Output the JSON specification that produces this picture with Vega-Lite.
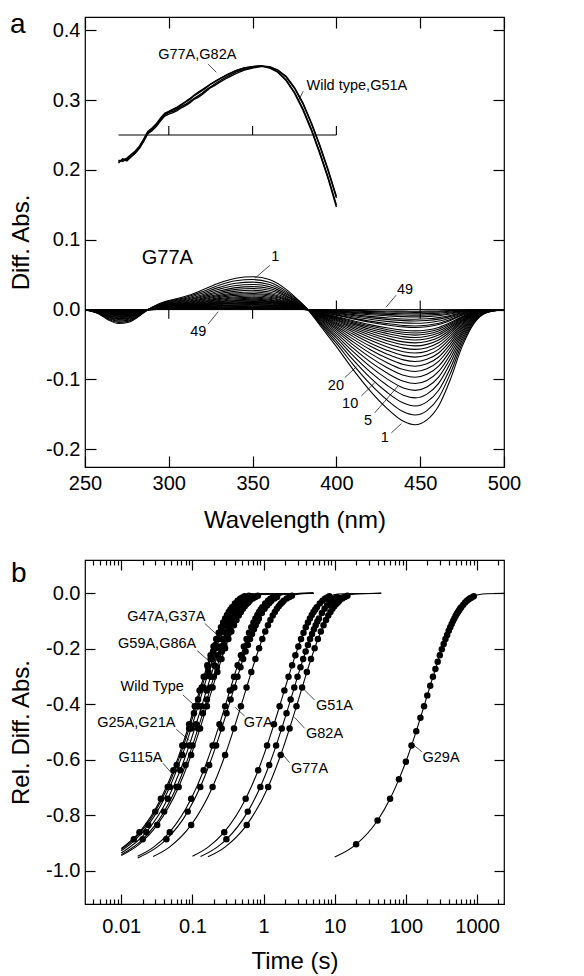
{
  "$schema": "https://vega.github.io/schema/vega-lite/v6.json",
  "background": "white",
  "padding": {"left": 8, "top": 10, "right": 5, "bottom": 2},
  "spacing": 25,
  "config": {
    "font": "Liberation Sans",
    "view": {"stroke": "black", "strokeWidth": 1.2},
    "axis": {"grid": false, "domain": false, "tickColor": "black", "tickWidth": 1.2, "labelColor": "black", "titleColor": "black", "labelFontSize": 20, "titleFontSize": 24, "titleFontWeight": "normal", "labelFlush": false, "labelOverlap": false},
    "locale": {"number": {"decimal": ".", "thousands": ",", "grouping": [3], "currency": ["$", ""], "minus": "-"}}
  },
  "vconcat": [
    {
      "width": 419,
      "height": 450,
      "resolve": {"axis": {"x": "independent", "y": "independent"}},
      "layer": [
        {
          "data": {"values": [{"w": 250, "w2": 500, "v": 0}]},
          "mark": {"type": "rule", "color": "black", "strokeWidth": 1},
          "encoding": {
            "x": {"field": "w", "type": "quantitative", "scale": {"domain": [250, 500], "nice": false, "zero": false},
                  "axis": {"orient": "bottom", "values": [250, 300, 350, 400, 450, 500], "tickSize": -11, "labelPadding": 17, "title": "Wavelength (nm)", "titlePadding": 15}},
            "x2": {"field": "w2"},
            "y": {"field": "v", "type": "quantitative", "scale": {"domain": [-0.2254, 0.419], "nice": false, "zero": false},
                  "axis": {"orient": "left", "values": [-0.2, -0.1, 0, 0.1, 0.2, 0.3, 0.4], "format": ".1f", "tickSize": -11, "labelPadding": 16, "title": "Diff. Abs.", "titlePadding": 12}}
          }
        },
        {
          "data": {"values": [{"w": 270, "w2": 400, "v": 0.25}]},
          "mark": {"type": "rule", "color": "black", "strokeWidth": 1.1},
          "encoding": {
            "x": {"field": "w", "type": "quantitative", "axis": {"orient": "top", "values": [250, 300, 350, 400, 450, 500], "tickSize": -11, "labels": false, "title": null}},
            "x2": {"field": "w2"},
            "y": {"field": "v", "type": "quantitative", "axis": {"orient": "right", "values": [-0.2, -0.1, 0, 0.1, 0.2, 0.3, 0.4], "tickSize": -11, "labels": false, "title": null}}
          }
        },
        {
          "data": {"values": [
            {"w": 300, "v": 0.25, "v2": 0.263}, {"w": 350, "v": 0.25, "v2": 0.263}, {"w": 400, "v": 0.25, "v2": 0.263},
            {"w": 300, "v": -0.013, "v2": 0.013}, {"w": 350, "v": -0.013, "v2": 0.013}, {"w": 400, "v": -0.013, "v2": 0.013}, {"w": 450, "v": -0.013, "v2": 0.013}
          ]},
          "mark": {"type": "rule", "color": "black", "strokeWidth": 1.1},
          "encoding": {
            "x": {"field": "w", "type": "quantitative", "axis": null},
            "y": {"field": "v", "type": "quantitative", "axis": null},
            "y2": {"field": "v2"}
          }
        },
        {
          "data": {"values": [
            {"w":250,"a1":0,"a2":0,"a3":0,"a4":0,"a5":0,"a6":0,"a7":0,"a8":0,"a9":0,"a10":0,"a11":0,"a12":0,"a13":0,"a14":0,"a16":0,"a18":0,"a20":0,"a23":0,"a27":0,"a32":0,"a38":0,"a49":0,"a15":0,"a17":0,"a19":0,"a22":0,"a25":0,"a29":0,"a35":0,"a43":0},
            {"w":258,"a1":-0.006,"a2":-0.0055,"a3":-0.005,"a4":-0.0046,"a5":-0.0042,"a6":-0.0039,"a7":-0.0035,"a8":-0.0032,"a9":-0.003,"a10":-0.0027,"a11":-0.0025,"a12":-0.0023,"a13":-0.0021,"a14":-0.0019,"a16":-0.0016,"a18":-0.0013,"a20":-0.0011,"a23":-0.0009,"a27":-0.0006,"a32":-0.0004,"a38":-0.0002,"a49":-0.0001,"a15":-0.0017,"a17":-0.0015,"a19":-0.0012,"a22":-0.0009,"a25":-0.0007,"a29":-0.0005,"a35":-0.0003,"a43":-0.0001},
            {"w":264,"a1":-0.015,"a2":-0.0137,"a3":-0.0126,"a4":-0.0115,"a5":-0.0105,"a6":-0.0096,"a7":-0.0088,"a8":-0.0081,"a9":-0.0074,"a10":-0.0068,"a11":-0.0062,"a12":-0.0057,"a13":-0.0052,"a14":-0.0047,"a16":-0.004,"a18":-0.0033,"a20":-0.0028,"a23":-0.0021,"a27":-0.0015,"a32":-0.0009,"a38":-0.0006,"a49":-0.0002,"a15":-0.0043,"a17":-0.0036,"a19":-0.0031,"a22":-0.0023,"a25":-0.0018,"a29":-0.0013,"a35":-0.0007,"a43":-0.0004},
            {"w":270,"a1":-0.02,"a2":-0.0183,"a3":-0.0167,"a4":-0.0153,"a5":-0.014,"a6":-0.0128,"a7":-0.0117,"a8":-0.0107,"a9":-0.0098,"a10":-0.009,"a11":-0.0082,"a12":-0.0075,"a13":-0.0069,"a14":-0.0063,"a16":-0.0053,"a18":-0.0044,"a20":-0.0037,"a23":-0.0028,"a27":-0.002,"a32":-0.0013,"a38":-0.0007,"a49":-0.0003,"a15":-0.0058,"a17":-0.0048,"a19":-0.0041,"a22":-0.0031,"a25":-0.0024,"a29":-0.0017,"a35":-0.001,"a43":-0.0005},
            {"w":276,"a1":-0.018,"a2":-0.0165,"a3":-0.0151,"a4":-0.0138,"a5":-0.0126,"a6":-0.0116,"a7":-0.0106,"a8":-0.0097,"a9":-0.0089,"a10":-0.0081,"a11":-0.0074,"a12":-0.0068,"a13":-0.0062,"a14":-0.0057,"a16":-0.0048,"a18":-0.004,"a20":-0.0033,"a23":-0.0026,"a27":-0.0018,"a32":-0.0011,"a38":-0.0007,"a49":-0.0003,"a15":-0.0052,"a17":-0.0044,"a19":-0.0037,"a22":-0.0028,"a25":-0.0021,"a29":-0.0015,"a35":-0.0009,"a43":-0.0004},
            {"w":282,"a1":-0.01,"a2":-0.0092,"a3":-0.0084,"a4":-0.0077,"a5":-0.007,"a6":-0.0064,"a7":-0.0059,"a8":-0.0054,"a9":-0.0049,"a10":-0.0045,"a11":-0.0041,"a12":-0.0038,"a13":-0.0035,"a14":-0.0032,"a16":-0.0026,"a18":-0.0022,"a20":-0.0019,"a23":-0.0014,"a27":-0.001,"a32":-0.0006,"a38":-0.0004,"a49":-0.0001,"a15":-0.0029,"a17":-0.0024,"a19":-0.002,"a22":-0.0016,"a25":-0.0012,"a29":-0.0008,"a35":-0.0005,"a43":-0.0002},
            {"w":287,"a1":-0.001,"a2":-0.0009,"a3":-0.0008,"a4":-0.0008,"a5":-0.0007,"a6":-0.0006,"a7":-0.0006,"a8":-0.0005,"a9":-0.0005,"a10":-0.0005,"a11":-0.0004,"a12":-0.0004,"a13":-0.0003,"a14":-0.0003,"a16":-0.0003,"a18":-0.0002,"a20":-0.0002,"a23":-0.0001,"a27":-0.0001,"a32":-0.0001,"a38":0,"a49":0,"a15":-0.0003,"a17":-0.0002,"a19":-0.0002,"a22":-0.0002,"a25":-0.0001,"a29":-0.0001,"a35":0,"a43":0},
            {"w":293,"a1":0.007,"a2":0.0064,"a3":0.0059,"a4":0.0054,"a5":0.0049,"a6":0.0045,"a7":0.0041,"a8":0.0038,"a9":0.0034,"a10":0.0032,"a11":0.0029,"a12":0.0026,"a13":0.0024,"a14":0.0022,"a16":0.0018,"a18":0.0015,"a20":0.0013,"a23":0.001,"a27":0.0007,"a32":0.0004,"a38":0.0003,"a49":0.0001,"a15":0.002,"a17":0.0017,"a19":0.0014,"a22":0.0011,"a25":0.0008,"a29":0.0006,"a35":0.0003,"a43":0.0002},
            {"w":300,"a1":0.013,"a2":0.0119,"a3":0.0109,"a4":0.01,"a5":0.0091,"a6":0.0083,"a7":0.0076,"a8":0.007,"a9":0.0064,"a10":0.0059,"a11":0.0054,"a12":0.0049,"a13":0.0045,"a14":0.0041,"a16":0.0034,"a18":0.0029,"a20":0.0024,"a23":0.0018,"a27":0.0013,"a32":0.0008,"a38":0.0005,"a49":0.0002,"a15":0.0038,"a17":0.0032,"a19":0.0026,"a22":0.002,"a25":0.0016,"a29":0.0011,"a35":0.0006,"a43":0.0003},
            {"w":310,"a1":0.019,"a2":0.0174,"a3":0.0159,"a4":0.0146,"a5":0.0133,"a6":0.0122,"a7":0.0112,"a8":0.0102,"a9":0.0093,"a10":0.0086,"a11":0.0078,"a12":0.0072,"a13":0.0066,"a14":0.006,"a16":0.005,"a18":0.0042,"a20":0.0035,"a23":0.0027,"a27":0.0019,"a32":0.0012,"a38":0.0007,"a49":0.0003,"a15":0.0055,"a17":0.0046,"a19":0.0039,"a22":0.003,"a25":0.0023,"a29":0.0016,"a35":0.0009,"a43":0.0005},
            {"w":320,"a1":0.028,"a2":0.0256,"a3":0.0234,"a4":0.0214,"a5":0.0196,"a6":0.018,"a7":0.0164,"a8":0.015,"a9":0.0138,"a10":0.0126,"a11":0.0115,"a12":0.0106,"a13":0.0097,"a14":0.0088,"a16":0.0074,"a18":0.0062,"a20":0.0052,"a23":0.004,"a27":0.0028,"a32":0.0018,"a38":0.001,"a49":0.0004,"a15":0.0081,"a17":0.0068,"a19":0.0057,"a22":0.0043,"a25":0.0033,"a29":0.0023,"a35":0.0014,"a43":0.0007},
            {"w":330,"a1":0.038,"a2":0.0348,"a3":0.0318,"a4":0.0291,"a5":0.0266,"a6":0.0244,"a7":0.0223,"a8":0.0204,"a9":0.0187,"a10":0.0171,"a11":0.0157,"a12":0.0143,"a13":0.0131,"a14":0.012,"a16":0.01,"a18":0.0084,"a20":0.007,"a23":0.0054,"a27":0.0038,"a32":0.0024,"a38":0.0014,"a49":0.0005,"a15":0.011,"a17":0.0092,"a19":0.0077,"a22":0.0059,"a25":0.0045,"a29":0.0032,"a35":0.0019,"a43":0.0009},
            {"w":340,"a1":0.045,"a2":0.0412,"a3":0.0377,"a4":0.0345,"a5":0.0315,"a6":0.0289,"a7":0.0264,"a8":0.0242,"a9":0.0221,"a10":0.0203,"a11":0.0185,"a12":0.017,"a13":0.0155,"a14":0.0142,"a16":0.0119,"a18":0.0099,"a20":0.0083,"a23":0.0064,"a27":0.0045,"a32":0.0028,"a38":0.0017,"a49":0.0006,"a15":0.013,"a17":0.0109,"a19":0.0091,"a22":0.007,"a25":0.0054,"a29":0.0038,"a35":0.0022,"a43":0.0011},
            {"w":350,"a1":0.047,"a2":0.043,"a3":0.0393,"a4":0.036,"a5":0.0329,"a6":0.0302,"a7":0.0276,"a8":0.0252,"a9":0.0231,"a10":0.0212,"a11":0.0194,"a12":0.0177,"a13":0.0162,"a14":0.0148,"a16":0.0124,"a18":0.0104,"a20":0.0087,"a23":0.0067,"a27":0.0047,"a32":0.003,"a38":0.0017,"a49":0.0007,"a15":0.0136,"a17":0.0114,"a19":0.0095,"a22":0.0073,"a25":0.0056,"a29":0.0039,"a35":0.0023,"a43":0.0011},
            {"w":360,"a1":0.043,"a2":0.0393,"a3":0.036,"a4":0.0329,"a5":0.0301,"a6":0.0276,"a7":0.0252,"a8":0.0231,"a9":0.0212,"a10":0.0194,"a11":0.0177,"a12":0.0162,"a13":0.0148,"a14":0.0135,"a16":0.0114,"a18":0.0095,"a20":0.008,"a23":0.0061,"a27":0.0043,"a32":0.0027,"a38":0.0016,"a49":0.0006,"a15":0.0124,"a17":0.0104,"a19":0.0087,"a22":0.0067,"a25":0.0051,"a29":0.0036,"a35":0.0021,"a43":0.001},
            {"w":370,"a1":0.029,"a2":0.0265,"a3":0.0243,"a4":0.0222,"a5":0.0203,"a6":0.0186,"a7":0.017,"a8":0.0156,"a9":0.0143,"a10":0.0131,"a11":0.0119,"a12":0.0109,"a13":0.01,"a14":0.0091,"a16":0.0077,"a18":0.0064,"a20":0.0054,"a23":0.0041,"a27":0.0029,"a32":0.0018,"a38":0.0011,"a49":0.0004,"a15":0.0084,"a17":0.007,"a19":0.0059,"a22":0.0045,"a25":0.0035,"a29":0.0024,"a35":0.0014,"a43":0.0007},
            {"w":378,"a1":0.012,"a2":0.011,"a3":0.01,"a4":0.0092,"a5":0.0084,"a6":0.0077,"a7":0.007,"a8":0.0064,"a9":0.0059,"a10":0.0054,"a11":0.0049,"a12":0.0045,"a13":0.0041,"a14":0.0038,"a16":0.0032,"a18":0.0027,"a20":0.0022,"a23":0.0017,"a27":0.0012,"a32":0.0008,"a38":0.0004,"a49":0.0002,"a15":0.0035,"a17":0.0029,"a19":0.0024,"a22":0.0019,"a25":0.0014,"a29":0.001,"a35":0.0006,"a43":0.0003},
            {"w":383,"a1":0,"a2":0,"a3":0,"a4":0,"a5":0,"a6":0,"a7":0,"a8":0,"a9":0,"a10":0,"a11":0,"a12":0,"a13":0,"a14":0,"a16":0,"a18":0,"a20":0,"a23":0,"a27":0,"a32":0,"a38":0,"a49":0,"a15":0,"a17":0,"a19":0,"a22":0,"a25":0,"a29":0,"a35":0,"a43":0},
            {"w":390,"a1":-0.022,"a2":-0.0201,"a3":-0.0184,"a4":-0.0169,"a5":-0.0154,"a6":-0.0141,"a7":-0.0129,"a8":-0.0118,"a9":-0.0108,"a10":-0.0099,"a11":-0.0091,"a12":-0.0083,"a13":-0.0076,"a14":-0.0069,"a16":-0.0058,"a18":-0.0049,"a20":-0.0041,"a23":-0.0031,"a27":-0.0022,"a32":-0.0014,"a38":-0.0008,"a49":-0.0003,"a15":-0.0064,"a17":-0.0053,"a19":-0.0045,"a22":-0.0034,"a25":-0.0026,"a29":-0.0018,"a35":-0.0011,"a43":-0.0005},
            {"w":400,"a1":-0.053,"a2":-0.0485,"a3":-0.0444,"a4":-0.0406,"a5":-0.0372,"a6":-0.034,"a7":-0.0311,"a8":-0.0285,"a9":-0.0261,"a10":-0.0239,"a11":-0.0218,"a12":-0.02,"a13":-0.0183,"a14":-0.0167,"a16":-0.014,"a18":-0.0117,"a20":-0.0098,"a23":-0.0075,"a27":-0.0052,"a32":-0.0033,"a38":-0.002,"a49":-0.0007,"a15":-0.0153,"a17":-0.0128,"a19":-0.0108,"a22":-0.0082,"a25":-0.0063,"a29":-0.0044,"a35":-0.0026,"a43":-0.0013},
            {"w":410,"a1":-0.086,"a2":-0.0787,"a3":-0.072,"a4":-0.0659,"a5":-0.0603,"a6":-0.0552,"a7":-0.0505,"a8":-0.0462,"a9":-0.0423,"a10":-0.0387,"a11":-0.0354,"a12":-0.0324,"a13":-0.0297,"a14":-0.0271,"a16":-0.0227,"a18":-0.019,"a20":-0.0159,"a23":-0.0122,"a27":-0.0085,"a32":-0.0054,"a38":-0.0032,"a49":-0.0012,"a15":-0.0249,"a17":-0.0208,"a19":-0.0175,"a22":-0.0133,"a25":-0.0102,"a29":-0.0072,"a35":-0.0042,"a43":-0.0021},
            {"w":420,"a1":-0.116,"a2":-0.1061,"a3":-0.0971,"a4":-0.0889,"a5":-0.0813,"a6":-0.0745,"a7":-0.0681,"a8":-0.0623,"a9":-0.0571,"a10":-0.0522,"a11":-0.0478,"a12":-0.0437,"a13":-0.04,"a14":-0.0365,"a16":-0.0306,"a18":-0.0256,"a20":-0.0215,"a23":-0.0165,"a27":-0.0115,"a32":-0.0073,"a38":-0.0043,"a49":-0.0016,"a15":-0.0335,"a17":-0.0281,"a19":-0.0236,"a22":-0.018,"a25":-0.0138,"a29":-0.0097,"a35":-0.0057,"a43":-0.0028},
            {"w":430,"a1":-0.141,"a2":-0.129,"a3":-0.118,"a4":-0.108,"a5":-0.0988,"a6":-0.0905,"a7":-0.0828,"a8":-0.0757,"a9":-0.0694,"a10":-0.0635,"a11":-0.0581,"a12":-0.0532,"a13":-0.0486,"a14":-0.0444,"a16":-0.0372,"a18":-0.0312,"a20":-0.0261,"a23":-0.02,"a27":-0.014,"a32":-0.0089,"a38":-0.0052,"a49":-0.002,"a15":-0.0408,"a17":-0.0341,"a19":-0.0286,"a22":-0.0219,"a25":-0.0168,"a29":-0.0118,"a35":-0.0069,"a43":-0.0034},
            {"w":440,"a1":-0.16,"a2":-0.1464,"a3":-0.1339,"a4":-0.1226,"a5":-0.1122,"a6":-0.1027,"a7":-0.0939,"a8":-0.0859,"a9":-0.0787,"a10":-0.072,"a11":-0.0659,"a12":-0.0603,"a13":-0.0552,"a14":-0.0504,"a16":-0.0422,"a18":-0.0354,"a20":-0.0296,"a23":-0.0227,"a27":-0.0158,"a32":-0.0101,"a38":-0.0059,"a49":-0.0022,"a15":-0.0462,"a17":-0.0387,"a19":-0.0325,"a22":-0.0248,"a25":-0.019,"a29":-0.0134,"a35":-0.0078,"a43":-0.0038},
            {"w":447,"a1":-0.165,"a2":-0.151,"a3":-0.1381,"a4":-0.1264,"a5":-0.1157,"a6":-0.1059,"a7":-0.0969,"a8":-0.0886,"a9":-0.0812,"a10":-0.0743,"a11":-0.068,"a12":-0.0622,"a13":-0.0569,"a14":-0.052,"a16":-0.0436,"a18":-0.0365,"a20":-0.0305,"a23":-0.0234,"a27":-0.0163,"a32":-0.0104,"a38":-0.0061,"a49":-0.0023,"a15":-0.0477,"a17":-0.0399,"a19":-0.0335,"a22":-0.0256,"a25":-0.0196,"a29":-0.0138,"a35":-0.0081,"a43":-0.004},
            {"w":454,"a1":-0.158,"a2":-0.1446,"a3":-0.1322,"a4":-0.121,"a5":-0.1108,"a6":-0.1014,"a7":-0.0927,"a8":-0.0848,"a9":-0.0777,"a10":-0.0711,"a11":-0.0651,"a12":-0.0596,"a13":-0.0545,"a14":-0.0498,"a16":-0.0417,"a18":-0.0349,"a20":-0.0292,"a23":-0.0224,"a27":-0.0156,"a32":-0.01,"a38":-0.0058,"a49":-0.0022,"a15":-0.0457,"a17":-0.0382,"a19":-0.0321,"a22":-0.0245,"a25":-0.0188,"a29":-0.0132,"a35":-0.0077,"a43":-0.0038},
            {"w":461,"a1":-0.138,"a2":-0.1263,"a3":-0.1155,"a4":-0.1057,"a5":-0.0967,"a6":-0.0886,"a7":-0.081,"a8":-0.0741,"a9":-0.0679,"a10":-0.0621,"a11":-0.0569,"a12":-0.052,"a13":-0.0476,"a14":-0.0435,"a16":-0.0364,"a18":-0.0305,"a20":-0.0255,"a23":-0.0196,"a27":-0.0137,"a32":-0.0087,"a38":-0.0051,"a49":-0.0019,"a15":-0.0399,"a17":-0.0334,"a19":-0.028,"a22":-0.0214,"a25":-0.0164,"a29":-0.0115,"a35":-0.0068,"a43":-0.0033},
            {"w":468,"a1":-0.1,"a2":-0.0915,"a3":-0.0837,"a4":-0.0766,"a5":-0.0701,"a6":-0.0642,"a7":-0.0587,"a8":-0.0537,"a9":-0.0492,"a10":-0.045,"a11":-0.0412,"a12":-0.0377,"a13":-0.0345,"a14":-0.0315,"a16":-0.0264,"a18":-0.0221,"a20":-0.0185,"a23":-0.0142,"a27":-0.0099,"a32":-0.0063,"a38":-0.0037,"a49":-0.0014,"a15":-0.0289,"a17":-0.0242,"a19":-0.0203,"a22":-0.0155,"a25":-0.0119,"a29":-0.0084,"a35":-0.0049,"a43":-0.0024},
            {"w":475,"a1":-0.053,"a2":-0.0485,"a3":-0.0444,"a4":-0.0406,"a5":-0.0372,"a6":-0.034,"a7":-0.0311,"a8":-0.0285,"a9":-0.0261,"a10":-0.0239,"a11":-0.0218,"a12":-0.02,"a13":-0.0183,"a14":-0.0167,"a16":-0.014,"a18":-0.0117,"a20":-0.0098,"a23":-0.0075,"a27":-0.0052,"a32":-0.0033,"a38":-0.002,"a49":-0.0007,"a15":-0.0153,"a17":-0.0128,"a19":-0.0108,"a22":-0.0082,"a25":-0.0063,"a29":-0.0044,"a35":-0.0026,"a43":-0.0013},
            {"w":482,"a1":-0.02,"a2":-0.0183,"a3":-0.0167,"a4":-0.0153,"a5":-0.014,"a6":-0.0128,"a7":-0.0117,"a8":-0.0107,"a9":-0.0098,"a10":-0.009,"a11":-0.0082,"a12":-0.0075,"a13":-0.0069,"a14":-0.0063,"a16":-0.0053,"a18":-0.0044,"a20":-0.0037,"a23":-0.0028,"a27":-0.002,"a32":-0.0013,"a38":-0.0007,"a49":-0.0003,"a15":-0.0058,"a17":-0.0048,"a19":-0.0041,"a22":-0.0031,"a25":-0.0024,"a29":-0.0017,"a35":-0.001,"a43":-0.0005},
            {"w":490,"a1":-0.004,"a2":-0.0037,"a3":-0.0033,"a4":-0.0031,"a5":-0.0028,"a6":-0.0026,"a7":-0.0023,"a8":-0.0021,"a9":-0.002,"a10":-0.0018,"a11":-0.0016,"a12":-0.0015,"a13":-0.0014,"a14":-0.0013,"a16":-0.0011,"a18":-0.0009,"a20":-0.0007,"a23":-0.0006,"a27":-0.0004,"a32":-0.0003,"a38":-0.0001,"a49":-0.0001,"a15":-0.0012,"a17":-0.001,"a19":-0.0008,"a22":-0.0006,"a25":-0.0005,"a29":-0.0003,"a35":-0.0002,"a43":-0.0001},
            {"w":500,"a1":0,"a2":0,"a3":0,"a4":0,"a5":0,"a6":0,"a7":0,"a8":0,"a9":0,"a10":0,"a11":0,"a12":0,"a13":0,"a14":0,"a16":0,"a18":0,"a20":0,"a23":0,"a27":0,"a32":0,"a38":0,"a49":0,"a15":0,"a17":0,"a19":0,"a22":0,"a25":0,"a29":0,"a35":0,"a43":0}
          ]},
          "transform": [{"fold": ["a1","a2","a3","a4","a5","a6","a7","a8","a9","a10","a11","a12","a13","a14","a15","a16","a17","a18","a19","a20","a22","a23","a25","a27","a29","a32","a35","a38","a43","a49"], "as": ["k", "v"]}],
          "mark": {"type": "line", "color": "black", "strokeWidth": 1.1, "interpolate": "monotone"},
          "encoding": {
            "x": {"field": "w", "type": "quantitative", "axis": null},
            "y": {"field": "v", "type": "quantitative", "axis": null},
            "detail": {"field": "k", "type": "nominal"}
          }
        },
        {
          "data": {"values": [
            {"w":270,"wt":0.211,"g51":0.214,"g77":0.213,"g82":0.21},
            {"w":272.5,"wt":0.215,"g51":0.212,"g77":0.214,"g82":0.216},
            {"w":275,"wt":0.213,"g51":0.216,"g77":0.217,"g82":0.214},
            {"w":277.5,"wt":0.219,"g51":0.221,"g77":0.222,"g82":0.219},
            {"w":280,"wt":0.224,"g51":0.226,"g77":0.227,"g82":0.225},
            {"w":282.5,"wt":0.231,"g51":0.233,"g77":0.234,"g82":0.232},
            {"w":285,"wt":0.241,"g51":0.243,"g77":0.244,"g82":0.242},
            {"w":287.5,"wt":0.252,"g51":0.254,"g77":0.255,"g82":0.253},
            {"w":290,"wt":0.256,"g51":0.258,"g77":0.26,"g82":0.258},
            {"w":292.5,"wt":0.262,"g51":0.264,"g77":0.266,"g82":0.265},
            {"w":295,"wt":0.27,"g51":0.272,"g77":0.274,"g82":0.272},
            {"w":297.5,"wt":0.277,"g51":0.279,"g77":0.281,"g82":0.28},
            {"w":300,"wt":0.28,"g51":0.282,"g77":0.284,"g82":0.283},
            {"w":302.5,"wt":0.282,"g51":0.284,"g77":0.287,"g82":0.286},
            {"w":305,"wt":0.285,"g51":0.287,"g77":0.29,"g82":0.289},
            {"w":307.5,"wt":0.289,"g51":0.291,"g77":0.294,"g82":0.293},
            {"w":310,"wt":0.292,"g51":0.294,"g77":0.298,"g82":0.297},
            {"w":312.5,"wt":0.296,"g51":0.298,"g77":0.302,"g82":0.301},
            {"w":315,"wt":0.301,"g51":0.302,"g77":0.307,"g82":0.306},
            {"w":317.5,"wt":0.304,"g51":0.306,"g77":0.311,"g82":0.31},
            {"w":320,"wt":0.308,"g51":0.31,"g77":0.315,"g82":0.314},
            {"w":322.5,"wt":0.313,"g51":0.315,"g77":0.319,"g82":0.318},
            {"w":325,"wt":0.318,"g51":0.319,"g77":0.323,"g82":0.323},
            {"w":327.5,"wt":0.321,"g51":0.323,"g77":0.327,"g82":0.326},
            {"w":330,"wt":0.325,"g51":0.327,"g77":0.33,"g82":0.33},
            {"w":335,"wt":0.332,"g51":0.334,"g77":0.337,"g82":0.336},
            {"w":340,"wt":0.338,"g51":0.34,"g77":0.342,"g82":0.342},
            {"w":345,"wt":0.343,"g51":0.344,"g77":0.346,"g82":0.346},
            {"w":350,"wt":0.346,"g51":0.347,"g77":0.348,"g82":0.348},
            {"w":355,"wt":0.348,"g51":0.349,"g77":0.349,"g82":0.349},
            {"w":360,"wt":0.348,"g51":0.348,"g77":0.346,"g82":0.347},
            {"w":365,"wt":0.343,"g51":0.343,"g77":0.34,"g82":0.341},
            {"w":370,"wt":0.333,"g51":0.334,"g77":0.328,"g82":0.329},
            {"w":375,"wt":0.317,"g51":0.318,"g77":0.31,"g82":0.311},
            {"w":380,"wt":0.295,"g51":0.296,"g77":0.286,"g82":0.288},
            {"w":385,"wt":0.267,"g51":0.268,"g77":0.257,"g82":0.259},
            {"w":390,"wt":0.235,"g51":0.236,"g77":0.224,"g82":0.226},
            {"w":395,"wt":0.199,"g51":0.201,"g77":0.188,"g82":0.19},
            {"w":400,"wt":0.16,"g51":0.162,"g77":0.147,"g82":0.15}
          ]},
          "transform": [{"fold": ["wt", "g51", "g77", "g82"], "as": ["k", "v"]}],
          "mark": {"type": "line", "color": "black", "strokeWidth": 1.4},
          "encoding": {
            "x": {"field": "w", "type": "quantitative", "axis": null},
            "y": {"field": "v", "type": "quantitative", "axis": null},
            "detail": {"field": "k", "type": "nominal"}
          }
        },
        {
          "data": {"values": [
            {"w": 323.5, "v": 0.3515, "w2": 328.3, "v2": 0.34},
            {"w": 380.2, "v": 0.3126, "w2": 377.2, "v2": 0.2983},
            {"w": 360.3, "v": 0.0633, "w2": 351.4, "v2": 0.045},
            {"w": 435.6, "v": 0.0206, "w2": 429.6, "v2": 0.0033},
            {"w": 323.5, "v": -0.0207, "w2": 329.5, "v2": -0.0029},
            {"w": 405.0, "v": -0.0974, "w2": 411.9, "v2": -0.082},
            {"w": 414.9, "v": -0.1237, "w2": 422.9, "v2": -0.1046},
            {"w": 422.9, "v": -0.1478, "w2": 436.8, "v2": -0.1094},
            {"w": 432.8, "v": -0.1765, "w2": 438.8, "v2": -0.1632}
          ]},
          "mark": {"type": "rule", "color": "black", "strokeWidth": 0.7},
          "encoding": {
            "x": {"field": "w", "type": "quantitative", "axis": null},
            "x2": {"field": "w2"},
            "y": {"field": "v", "type": "quantitative", "axis": null},
            "y2": {"field": "v2"}
          }
        },
        {
          "data": {"values": [
            {"w": 317.0, "v": 0.3645, "s": 14.5, "t": "G77A,G82A"},
            {"w": 412.2, "v": 0.3197, "s": 14.5, "t": "Wild type,G51A"},
            {"w": 299.1, "v": 0.0738, "s": 20, "t": "G77A"},
            {"w": 363.5, "v": 0.0753, "s": 14.5, "t": "1"},
            {"w": 441.0, "v": 0.0278, "s": 14.5, "t": "49"},
            {"w": 317.6, "v": -0.0327, "s": 14.5, "t": "49"},
            {"w": 399.7, "v": -0.1094, "s": 14.5, "t": "20"},
            {"w": 408.2, "v": -0.1358, "s": 14.5, "t": "10"},
            {"w": 418.9, "v": -0.1597, "s": 14.5, "t": "5"},
            {"w": 428.9, "v": -0.1837, "s": 14.5, "t": "1"}
          ]},
          "mark": {"type": "text", "color": "black", "align": "center", "baseline": "middle"},
          "encoding": {
            "x": {"field": "w", "type": "quantitative", "axis": null},
            "y": {"field": "v", "type": "quantitative", "axis": null},
            "text": {"field": "t"},
            "size": {"field": "s", "type": "quantitative", "scale": null}
          }
        },
        {
          "data": {"values": [{"w": 205.3, "v": 0.396, "t": "a"}]},
          "mark": {"type": "text", "color": "black", "align": "left", "baseline": "alphabetic", "fontSize": 28},
          "encoding": {
            "x": {"field": "w", "type": "quantitative", "axis": null},
            "y": {"field": "v", "type": "quantitative", "axis": null},
            "text": {"field": "t"}
          }
        }
      ]
    },
    {
      "width": 419,
      "height": 344,
      "resolve": {"axis": {"x": "independent", "y": "independent"}},
      "data": {"values": [
        {"c":1,"t":0.01,"y":-0.92,"f":1},{"c":1,"t":0.018,"y":-0.861},{"c":1,"t":0.036,"y":-0.741},{"c":1,"t":0.054,"y":-0.638},{"c":1,"t":0.072,"y":-0.549},{"c":1,"t":0.09,"y":-0.472},{"c":1,"t":0.108,"y":-0.407},{"c":1,"t":0.126,"y":-0.35},{"c":1,"t":0.144,"y":-0.301},{"c":1,"t":0.162,"y":-0.259},{"c":1,"t":0.18,"y":-0.223},{"c":1,"t":0.198,"y":-0.192},{"c":1,"t":0.216,"y":-0.165},{"c":1,"t":0.234,"y":-0.142},{"c":1,"t":0.252,"y":-0.122},{"c":1,"t":0.27,"y":-0.105},{"c":1,"t":0.288,"y":-0.091},{"c":1,"t":0.306,"y":-0.078},{"c":1,"t":0.324,"y":-0.067},{"c":1,"t":0.342,"y":-0.058},{"c":1,"t":0.36,"y":-0.05},{"c":1,"t":0.396,"y":-0.037},{"c":1,"t":0.432,"y":-0.027},{"c":1,"t":0.468,"y":-0.02},{"c":1,"t":0.504,"y":-0.015},{"c":1,"t":0.54,"y":-0.011},{"c":1,"t":0.72,"y":-0.0025,"f":1},{"c":1,"t":5,"y":0,"f":1},
        {"c":2,"t":0.01,"y":-0.923,"f":1},{"c":2,"t":0.015,"y":-0.887},{"c":2,"t":0.03,"y":-0.787},{"c":2,"t":0.045,"y":-0.698},{"c":2,"t":0.06,"y":-0.619},{"c":2,"t":0.075,"y":-0.549},{"c":2,"t":0.09,"y":-0.487},{"c":2,"t":0.105,"y":-0.432},{"c":2,"t":0.12,"y":-0.383},{"c":2,"t":0.135,"y":-0.34},{"c":2,"t":0.15,"y":-0.301},{"c":2,"t":0.165,"y":-0.267},{"c":2,"t":0.18,"y":-0.237},{"c":2,"t":0.195,"y":-0.21},{"c":2,"t":0.21,"y":-0.186},{"c":2,"t":0.225,"y":-0.165},{"c":2,"t":0.24,"y":-0.147},{"c":2,"t":0.255,"y":-0.13},{"c":2,"t":0.27,"y":-0.115},{"c":2,"t":0.285,"y":-0.102},{"c":2,"t":0.3,"y":-0.091},{"c":2,"t":0.33,"y":-0.071},{"c":2,"t":0.36,"y":-0.056},{"c":2,"t":0.39,"y":-0.044},{"c":2,"t":0.42,"y":-0.035},{"c":2,"t":0.45,"y":-0.027},{"c":2,"t":0.495,"y":-0.019},{"c":2,"t":0.54,"y":-0.013},{"c":2,"t":0.75,"y":-0.0025,"f":1},{"c":2,"t":5,"y":0,"f":1},
        {"c":3,"t":0.01,"y":-0.928,"f":1},{"c":3,"t":0.016,"y":-0.887,"f":1},{"c":3,"t":0.024,"y":-0.835},{"c":3,"t":0.048,"y":-0.698},{"c":3,"t":0.072,"y":-0.583},{"c":3,"t":0.096,"y":-0.487},{"c":3,"t":0.12,"y":-0.407},{"c":3,"t":0.144,"y":-0.34},{"c":3,"t":0.168,"y":-0.284},{"c":3,"t":0.192,"y":-0.237},{"c":3,"t":0.216,"y":-0.198},{"c":3,"t":0.24,"y":-0.165},{"c":3,"t":0.264,"y":-0.138},{"c":3,"t":0.288,"y":-0.115},{"c":3,"t":0.312,"y":-0.096},{"c":3,"t":0.336,"y":-0.08},{"c":3,"t":0.36,"y":-0.067},{"c":3,"t":0.384,"y":-0.056},{"c":3,"t":0.408,"y":-0.047},{"c":3,"t":0.432,"y":-0.039},{"c":3,"t":0.456,"y":-0.033},{"c":3,"t":0.48,"y":-0.027},{"c":3,"t":0.528,"y":-0.019},{"c":3,"t":0.576,"y":-0.013},{"c":3,"t":0.624,"y":-0.009},{"c":3,"t":0.8,"y":-0.0025,"f":1},{"c":3,"t":5,"y":0,"f":1},
        {"c":4,"t":0.01,"y":-0.936,"f":1},{"c":4,"t":0.0225,"y":-0.861},{"c":4,"t":0.045,"y":-0.741},{"c":4,"t":0.0675,"y":-0.638},{"c":4,"t":0.09,"y":-0.549},{"c":4,"t":0.1125,"y":-0.472},{"c":4,"t":0.135,"y":-0.407},{"c":4,"t":0.1575,"y":-0.35},{"c":4,"t":0.18,"y":-0.301},{"c":4,"t":0.2025,"y":-0.259},{"c":4,"t":0.225,"y":-0.223},{"c":4,"t":0.2475,"y":-0.192},{"c":4,"t":0.27,"y":-0.165},{"c":4,"t":0.2925,"y":-0.142},{"c":4,"t":0.315,"y":-0.122},{"c":4,"t":0.3375,"y":-0.105},{"c":4,"t":0.36,"y":-0.091},{"c":4,"t":0.3825,"y":-0.078},{"c":4,"t":0.405,"y":-0.067},{"c":4,"t":0.4275,"y":-0.058},{"c":4,"t":0.45,"y":-0.05},{"c":4,"t":0.495,"y":-0.037},{"c":4,"t":0.54,"y":-0.027},{"c":4,"t":0.585,"y":-0.02},{"c":4,"t":0.63,"y":-0.015},{"c":4,"t":0.675,"y":-0.011},{"c":4,"t":0.9,"y":-0.0025,"f":1},{"c":4,"t":5,"y":0,"f":1},
        {"c":5,"t":0.01,"y":-0.942,"f":1},{"c":5,"t":0.02,"y":-0.887},{"c":5,"t":0.04,"y":-0.787},{"c":5,"t":0.06,"y":-0.698},{"c":5,"t":0.08,"y":-0.619},{"c":5,"t":0.1,"y":-0.549},{"c":5,"t":0.12,"y":-0.487},{"c":5,"t":0.14,"y":-0.432},{"c":5,"t":0.16,"y":-0.383},{"c":5,"t":0.18,"y":-0.34},{"c":5,"t":0.2,"y":-0.301},{"c":5,"t":0.22,"y":-0.267},{"c":5,"t":0.24,"y":-0.237},{"c":5,"t":0.26,"y":-0.21},{"c":5,"t":0.28,"y":-0.186},{"c":5,"t":0.3,"y":-0.165},{"c":5,"t":0.32,"y":-0.147},{"c":5,"t":0.34,"y":-0.13},{"c":5,"t":0.36,"y":-0.115},{"c":5,"t":0.38,"y":-0.102},{"c":5,"t":0.4,"y":-0.091},{"c":5,"t":0.44,"y":-0.071},{"c":5,"t":0.48,"y":-0.056},{"c":5,"t":0.52,"y":-0.044},{"c":5,"t":0.56,"y":-0.035},{"c":5,"t":0.6,"y":-0.027},{"c":5,"t":0.66,"y":-0.019},{"c":5,"t":0.72,"y":-0.013},{"c":5,"t":1.0,"y":-0.0025,"f":1},{"c":5,"t":5,"y":0,"f":1},
        {"c":6,"t":0.01,"y":-0.945,"f":1},{"c":6,"t":0.0178,"y":-0.905,"f":1},{"c":6,"t":0.032,"y":-0.835},{"c":6,"t":0.064,"y":-0.698},{"c":6,"t":0.096,"y":-0.583},{"c":6,"t":0.128,"y":-0.487},{"c":6,"t":0.16,"y":-0.407},{"c":6,"t":0.192,"y":-0.34},{"c":6,"t":0.224,"y":-0.284},{"c":6,"t":0.256,"y":-0.237},{"c":6,"t":0.288,"y":-0.198},{"c":6,"t":0.32,"y":-0.165},{"c":6,"t":0.352,"y":-0.138},{"c":6,"t":0.384,"y":-0.115},{"c":6,"t":0.416,"y":-0.096},{"c":6,"t":0.448,"y":-0.08},{"c":6,"t":0.48,"y":-0.067},{"c":6,"t":0.512,"y":-0.056},{"c":6,"t":0.544,"y":-0.047},{"c":6,"t":0.576,"y":-0.039},{"c":6,"t":0.608,"y":-0.033},{"c":6,"t":0.64,"y":-0.027},{"c":6,"t":0.704,"y":-0.019},{"c":6,"t":0.768,"y":-0.013},{"c":6,"t":0.832,"y":-0.009},{"c":6,"t":1.07,"y":-0.0025,"f":1},{"c":6,"t":5,"y":0,"f":1},
        {"c":7,"t":0.017,"y":-0.948,"f":1},{"c":7,"t":0.0288,"y":-0.914,"f":1},{"c":7,"t":0.048,"y":-0.861},{"c":7,"t":0.096,"y":-0.741},{"c":7,"t":0.144,"y":-0.638},{"c":7,"t":0.192,"y":-0.549},{"c":7,"t":0.24,"y":-0.472},{"c":7,"t":0.288,"y":-0.407},{"c":7,"t":0.336,"y":-0.35},{"c":7,"t":0.384,"y":-0.301},{"c":7,"t":0.432,"y":-0.259},{"c":7,"t":0.48,"y":-0.223},{"c":7,"t":0.528,"y":-0.192},{"c":7,"t":0.576,"y":-0.165},{"c":7,"t":0.624,"y":-0.142},{"c":7,"t":0.672,"y":-0.122},{"c":7,"t":0.72,"y":-0.105},{"c":7,"t":0.768,"y":-0.091},{"c":7,"t":0.816,"y":-0.078},{"c":7,"t":0.864,"y":-0.067},{"c":7,"t":0.912,"y":-0.058},{"c":7,"t":0.96,"y":-0.05},{"c":7,"t":1.056,"y":-0.037},{"c":7,"t":1.152,"y":-0.027},{"c":7,"t":1.248,"y":-0.02},{"c":7,"t":1.344,"y":-0.015},{"c":7,"t":1.44,"y":-0.011},{"c":7,"t":1.92,"y":-0.0025,"f":1},{"c":7,"t":5,"y":0,"f":1},
        {"c":8,"t":0.017,"y":-0.954,"f":1},{"c":8,"t":0.0322,"y":-0.914,"f":1},{"c":8,"t":0.043,"y":-0.887},{"c":8,"t":0.086,"y":-0.787},{"c":8,"t":0.129,"y":-0.698},{"c":8,"t":0.172,"y":-0.619},{"c":8,"t":0.215,"y":-0.549},{"c":8,"t":0.258,"y":-0.487},{"c":8,"t":0.301,"y":-0.432},{"c":8,"t":0.344,"y":-0.383},{"c":8,"t":0.387,"y":-0.34},{"c":8,"t":0.43,"y":-0.301},{"c":8,"t":0.473,"y":-0.267},{"c":8,"t":0.516,"y":-0.237},{"c":8,"t":0.559,"y":-0.21},{"c":8,"t":0.602,"y":-0.186},{"c":8,"t":0.645,"y":-0.165},{"c":8,"t":0.688,"y":-0.147},{"c":8,"t":0.731,"y":-0.13},{"c":8,"t":0.774,"y":-0.115},{"c":8,"t":0.817,"y":-0.102},{"c":8,"t":0.86,"y":-0.091},{"c":8,"t":0.946,"y":-0.071},{"c":8,"t":1.032,"y":-0.056},{"c":8,"t":1.118,"y":-0.044},{"c":8,"t":1.204,"y":-0.035},{"c":8,"t":1.29,"y":-0.027},{"c":8,"t":1.419,"y":-0.019},{"c":8,"t":1.548,"y":-0.013},{"c":8,"t":2.15,"y":-0.0025,"f":1},{"c":8,"t":5,"y":0,"f":1},
        {"c":9,"t":0.028,"y":-0.949,"f":1},{"c":9,"t":0.048,"y":-0.914,"f":1},{"c":9,"t":0.096,"y":-0.835},{"c":9,"t":0.192,"y":-0.698},{"c":9,"t":0.288,"y":-0.583},{"c":9,"t":0.384,"y":-0.487},{"c":9,"t":0.48,"y":-0.407},{"c":9,"t":0.576,"y":-0.34},{"c":9,"t":0.672,"y":-0.284},{"c":9,"t":0.768,"y":-0.237},{"c":9,"t":0.864,"y":-0.198},{"c":9,"t":0.96,"y":-0.165},{"c":9,"t":1.056,"y":-0.138},{"c":9,"t":1.152,"y":-0.115},{"c":9,"t":1.248,"y":-0.096},{"c":9,"t":1.344,"y":-0.08},{"c":9,"t":1.44,"y":-0.067},{"c":9,"t":1.536,"y":-0.056},{"c":9,"t":1.632,"y":-0.047},{"c":9,"t":1.728,"y":-0.039},{"c":9,"t":1.824,"y":-0.033},{"c":9,"t":1.92,"y":-0.027},{"c":9,"t":2.112,"y":-0.019},{"c":9,"t":2.304,"y":-0.013},{"c":9,"t":2.496,"y":-0.009},{"c":9,"t":3.2,"y":-0.0025,"f":1},{"c":9,"t":5,"y":0,"f":1},
        {"c":10,"t":0.1,"y":-0.948,"f":1},{"c":10,"t":0.168,"y":-0.914,"f":1},{"c":10,"t":0.28,"y":-0.861},{"c":10,"t":0.56,"y":-0.741},{"c":10,"t":0.84,"y":-0.638},{"c":10,"t":1.12,"y":-0.549},{"c":10,"t":1.4,"y":-0.472},{"c":10,"t":1.68,"y":-0.407},{"c":10,"t":1.96,"y":-0.35},{"c":10,"t":2.24,"y":-0.301},{"c":10,"t":2.52,"y":-0.259},{"c":10,"t":2.8,"y":-0.223},{"c":10,"t":3.08,"y":-0.192},{"c":10,"t":3.36,"y":-0.165},{"c":10,"t":3.64,"y":-0.142},{"c":10,"t":3.92,"y":-0.122},{"c":10,"t":4.2,"y":-0.105},{"c":10,"t":4.48,"y":-0.091},{"c":10,"t":4.76,"y":-0.078},{"c":10,"t":5.04,"y":-0.067},{"c":10,"t":5.32,"y":-0.058},{"c":10,"t":5.6,"y":-0.05},{"c":10,"t":6.16,"y":-0.037},{"c":10,"t":6.72,"y":-0.027},{"c":10,"t":7.28,"y":-0.02},{"c":10,"t":7.84,"y":-0.015},{"c":10,"t":8.4,"y":-0.011},{"c":10,"t":11.2,"y":-0.0025,"f":1},{"c":10,"t":45,"y":0,"f":1},
        {"c":11,"t":0.13,"y":-0.949,"f":1},{"c":11,"t":0.225,"y":-0.914,"f":1},{"c":11,"t":0.3,"y":-0.887},{"c":11,"t":0.6,"y":-0.787},{"c":11,"t":0.9,"y":-0.698},{"c":11,"t":1.2,"y":-0.619},{"c":11,"t":1.5,"y":-0.549},{"c":11,"t":1.8,"y":-0.487},{"c":11,"t":2.1,"y":-0.432},{"c":11,"t":2.4,"y":-0.383},{"c":11,"t":2.7,"y":-0.34},{"c":11,"t":3.0,"y":-0.301},{"c":11,"t":3.3,"y":-0.267},{"c":11,"t":3.6,"y":-0.237},{"c":11,"t":3.9,"y":-0.21},{"c":11,"t":4.2,"y":-0.186},{"c":11,"t":4.5,"y":-0.165},{"c":11,"t":4.8,"y":-0.147},{"c":11,"t":5.1,"y":-0.13},{"c":11,"t":5.4,"y":-0.115},{"c":11,"t":5.7,"y":-0.102},{"c":11,"t":6.0,"y":-0.091},{"c":11,"t":6.6,"y":-0.071},{"c":11,"t":7.2,"y":-0.056},{"c":11,"t":7.8,"y":-0.044},{"c":11,"t":8.4,"y":-0.035},{"c":11,"t":9.0,"y":-0.027},{"c":11,"t":9.9,"y":-0.019},{"c":11,"t":10.8,"y":-0.013},{"c":11,"t":15,"y":-0.0025,"f":1},{"c":11,"t":45,"y":0,"f":1},
        {"c":12,"t":0.165,"y":-0.95,"f":1},{"c":12,"t":0.29,"y":-0.914,"f":1},{"c":12,"t":0.58,"y":-0.835},{"c":12,"t":1.16,"y":-0.698},{"c":12,"t":1.74,"y":-0.583},{"c":12,"t":2.32,"y":-0.487},{"c":12,"t":2.9,"y":-0.407},{"c":12,"t":3.48,"y":-0.34},{"c":12,"t":4.06,"y":-0.284},{"c":12,"t":4.64,"y":-0.237},{"c":12,"t":5.22,"y":-0.198},{"c":12,"t":5.8,"y":-0.165},{"c":12,"t":6.38,"y":-0.138},{"c":12,"t":6.96,"y":-0.115},{"c":12,"t":7.54,"y":-0.096},{"c":12,"t":8.12,"y":-0.08},{"c":12,"t":8.7,"y":-0.067},{"c":12,"t":9.28,"y":-0.056},{"c":12,"t":9.86,"y":-0.047},{"c":12,"t":10.44,"y":-0.039},{"c":12,"t":11.02,"y":-0.033},{"c":12,"t":11.6,"y":-0.027},{"c":12,"t":12.76,"y":-0.019},{"c":12,"t":13.92,"y":-0.013},{"c":12,"t":15.08,"y":-0.009},{"c":12,"t":19.3,"y":-0.0025,"f":1},{"c":12,"t":45,"y":0,"f":1},
        {"c":13,"t":10,"y":-0.951,"f":1},{"c":13,"t":20,"y":-0.905},{"c":13,"t":40,"y":-0.819},{"c":13,"t":60,"y":-0.741},{"c":13,"t":80,"y":-0.67},{"c":13,"t":100,"y":-0.607},{"c":13,"t":120,"y":-0.549},{"c":13,"t":140,"y":-0.497},{"c":13,"t":160,"y":-0.449},{"c":13,"t":180,"y":-0.407},{"c":13,"t":200,"y":-0.368},{"c":13,"t":220,"y":-0.333},{"c":13,"t":240,"y":-0.301},{"c":13,"t":260,"y":-0.273},{"c":13,"t":280,"y":-0.247},{"c":13,"t":300,"y":-0.223},{"c":13,"t":320,"y":-0.202},{"c":13,"t":340,"y":-0.183},{"c":13,"t":360,"y":-0.165},{"c":13,"t":380,"y":-0.15},{"c":13,"t":400,"y":-0.135},{"c":13,"t":420,"y":-0.122},{"c":13,"t":440,"y":-0.111},{"c":13,"t":460,"y":-0.1},{"c":13,"t":480,"y":-0.091},{"c":13,"t":500,"y":-0.082},{"c":13,"t":520,"y":-0.074},{"c":13,"t":540,"y":-0.067},{"c":13,"t":560,"y":-0.061},{"c":13,"t":580,"y":-0.055},{"c":13,"t":600,"y":-0.05},{"c":13,"t":640,"y":-0.041},{"c":13,"t":680,"y":-0.033},{"c":13,"t":720,"y":-0.027},{"c":13,"t":760,"y":-0.022},{"c":13,"t":800,"y":-0.018},{"c":13,"t":840,"y":-0.015},{"c":13,"t":900,"y":-0.011},{"c":13,"t":1200,"y":-0.0025,"f":1},{"c":13,"t":2400,"y":0,"f":1}
      ]},
      "layer": [
        {
          "mark": {"type": "line", "color": "black", "strokeWidth": 1.1, "interpolate": "monotone"},
          "encoding": {
            "x": {"field": "t", "type": "quantitative", "scale": {"type": "log", "domain": [0.00309, 2394], "nice": false},
                  "axis": {"orient": "bottom", "title": "Time (s)", "titlePadding": 8,
                           "values": [0.004,0.005,0.006,0.007,0.008,0.009,0.01,0.02,0.03,0.04,0.05,0.06,0.07,0.08,0.09,0.1,0.2,0.3,0.4,0.5,0.6,0.7,0.8,0.9,1,2,3,4,5,6,7,8,9,10,20,30,40,50,60,70,80,90,100,200,300,400,500,600,700,800,900,1000,2000],
                           "labelExpr": "indexof([0.01,0.1,1,10,100,1000], datum.value) >= 0 ? format(datum.value, '~g') : ''",
                           "tickSize": {"condition": {"test": "indexof([0.01,0.1,1,10,100,1000], datum.value) >= 0", "value": -10}, "value": -5},
                           "labelPadding": 22}},
            "y": {"field": "y", "type": "quantitative", "scale": {"domain": [-1.12, 0.12], "nice": false, "zero": false},
                  "axis": {"orient": "left", "values": [-1, -0.8, -0.6, -0.4, -0.2, 0], "format": ".1f", "tickSize": -10, "labelPadding": 15, "title": "Rel. Diff. Abs.", "titlePadding": 12}},
            "detail": {"field": "c", "type": "nominal"}
          }
        },
        {
          "transform": [{"filter": "!datum.f"}],
          "mark": {"type": "point", "filled": true, "color": "black", "opacity": 1, "size": 42, "shape": "circle"},
          "encoding": {
            "x": {"field": "t", "type": "quantitative", "axis": null},
            "y": {"field": "y", "type": "quantitative", "axis": null}
          }
        },
        {
          "data": {"values": [
            {"t": 0.1483, "y": -0.1081, "t2": 0.2158, "y2": -0.1467},
            {"t": 0.1168, "y": -0.2069, "t2": 0.1689, "y2": -0.243},
            {"t": 0.0736, "y": -0.3666, "t2": 0.1262, "y2": -0.4207},
            {"t": 0.0592, "y": -0.4903, "t2": 0.0913, "y2": -0.5314},
            {"t": 0.0385, "y": -0.6128, "t2": 0.0504, "y2": -0.6467},
            {"t": 0.5408, "y": -0.4423, "t2": 0.399, "y2": -0.411},
            {"t": 5.2, "y": -0.3846, "t2": 3.45, "y2": -0.3389},
            {"t": 3.77, "y": -0.4867, "t2": 2.72, "y2": -0.447},
            {"t": 2.32, "y": -0.6107, "t2": 1.81, "y2": -0.5768},
            {"t": 167, "y": -0.571, "t2": 125, "y2": -0.5443}
          ]},
          "mark": {"type": "rule", "color": "black", "strokeWidth": 0.7},
          "encoding": {
            "x": {"field": "t", "type": "quantitative",
                  "axis": {"orient": "top", "title": null, "labels": false,
                           "values": [0.004,0.005,0.006,0.007,0.008,0.009,0.01,0.02,0.03,0.04,0.05,0.06,0.07,0.08,0.09,0.1,0.2,0.3,0.4,0.5,0.6,0.7,0.8,0.9,1,2,3,4,5,6,7,8,9,10,20,30,40,50,60,70,80,90,100,200,300,400,500,600,700,800,900,1000,2000],
                           "tickSize": {"condition": {"test": "indexof([0.01,0.1,1,10,100,1000], datum.value) >= 0", "value": -10}, "value": -5}}},
            "x2": {"field": "t2"},
            "y": {"field": "y", "type": "quantitative", "axis": {"orient": "right", "title": null, "labels": false, "values": [-1, -0.8, -0.6, -0.4, -0.2, 0], "tickSize": -10}},
            "y2": {"field": "y2"}
          }
        },
        {
          "data": {"values": [
            {"t": 0.0429, "y": -0.0844, "s": "G47A,G37A"},
            {"t": 0.0319, "y": -0.1838, "s": "G59A,G86A"},
            {"t": 0.0272, "y": -0.3389, "s": "Wild Type"},
            {"t": 0.01625, "y": -0.4686, "s": "G25A,G21A"},
            {"t": 0.0186, "y": -0.5926, "s": "G115A"},
            {"t": 0.84, "y": -0.4686, "s": "G7A"},
            {"t": 9.93, "y": -0.4063, "s": "G51A"},
            {"t": 7.19, "y": -0.5083, "s": "G82A"},
            {"t": 4.43, "y": -0.6345, "s": "G77A"},
            {"t": 312, "y": -0.5926, "s": "G29A"}
          ]},
          "mark": {"type": "text", "color": "black", "align": "center", "baseline": "middle", "fontSize": 14.5},
          "encoding": {
            "x": {"field": "t", "type": "quantitative", "axis": null},
            "y": {"field": "y", "type": "quantitative", "axis": null},
            "text": {"field": "s"}
          }
        },
        {
          "data": {"values": [{"t": 0.000282, "y": 0.0407, "s": "b"}]},
          "mark": {"type": "text", "color": "black", "align": "left", "baseline": "alphabetic", "fontSize": 28},
          "encoding": {
            "x": {"field": "t", "type": "quantitative", "axis": null},
            "y": {"field": "y", "type": "quantitative", "axis": null},
            "text": {"field": "s"}
          }
        }
      ]
    }
  ]
}
